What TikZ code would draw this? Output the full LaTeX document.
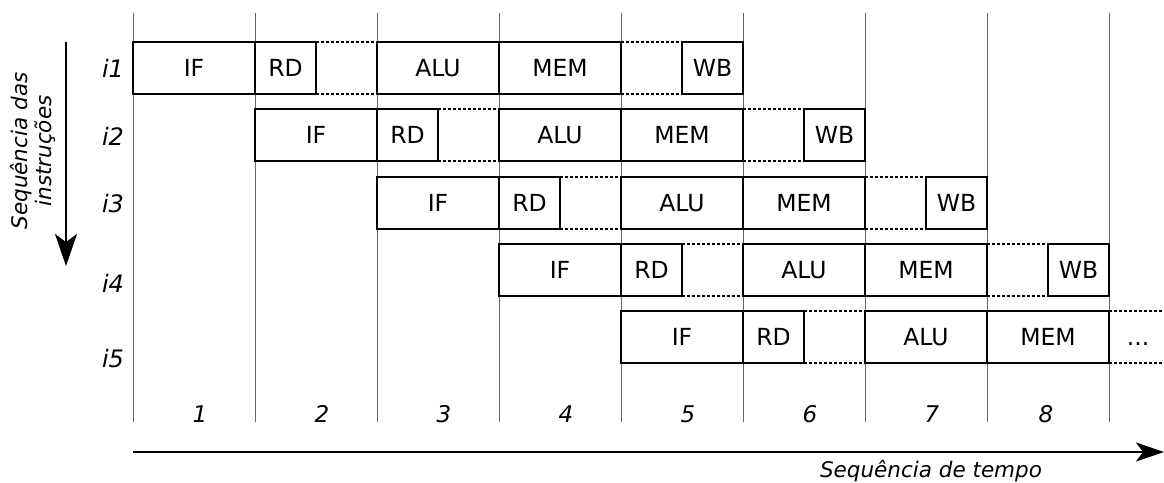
\documentclass[tikz,border=0pt]{standalone}
\usepackage{fontspec}
\setmainfont{DejaVu Sans}
\usetikzlibrary{arrows.meta}
\begin{document}
\begin{tikzpicture}[x=1pt,y=-1pt,
  stage/.style={draw=black, line width=1.3pt, fill=white, minimum height=52pt,
    inner sep=0pt, outer sep=0pt, font=\fontsize{23.5}{27}\selectfont, anchor=west},
  full/.style={stage, minimum width=122pt},
  half/.style={stage, minimum width=61pt},
  dotline/.style={line width=1.2pt, dash pattern=on 3pt off 2pt},
  gridline/.style={line width=1pt, draw=black!60},
  rowlab/.style={font=\fontsize{24}{28}\selectfont\itshape},
  numlab/.style={font=\fontsize{23}{27}\selectfont\itshape},
  axlab/.style={font=\fontsize{21.5}{24}\selectfont\itshape},
  axisarrow/.style={line width=2pt},
  vtip/.style={-{Stealth[length=32pt,width=22pt,inset=8pt]}},
  htip/.style={-{Stealth[length=28pt,width=19pt,inset=7pt]}}
]
\useasboundingbox (0,0) rectangle (1164,482);

% grid lines
\foreach \k in {0,...,8}{
  \draw[gridline] (133+122*\k,13) -- (133+122*\k,422);
}

% row i1
\node[full] (aif)  at (133,68) {IF};
\node[half] (ard)  at (255,68) {RD};
\node[full] (aalu) at (377,68) {ALU};
\node[full] (amem) at (499,68) {MEM};
\node[half] (awb)  at (682,68) {WB};
% row i2
\node[full] (bif)  at (255,135) {IF};
\node[half] (brd)  at (377,135) {RD};
\node[full] (balu) at (499,135) {ALU};
\node[full] (bmem) at (621,135) {MEM};
\node[half] (bwb)  at (804,135) {WB};
% row i3
\node[full] (cif)  at (377,203) {IF};
\node[half] (crd)  at (499,203) {RD};
\node[full] (calu) at (621,203) {ALU};
\node[full] (cmem) at (743,203) {MEM};
\node[half] (cwb)  at (926,203) {WB};
% row i4
\node[full] (dif)  at (499,270) {IF};
\node[half] (drd)  at (621,270) {RD};
\node[full] (dalu) at (743,270) {ALU};
\node[full] (dmem) at (865,270) {MEM};
\node[half] (dwb)  at (1048,270) {WB};
% row i5
\node[full] (eif)  at (621,337) {IF};
\node[half] (erd)  at (743,337) {RD};
\node[full] (ealu) at (865,337) {ALU};
\node[full] (emem) at (987,337) {MEM};
\node[font=\fontsize{23.5}{27}\selectfont, anchor=base] (edots) at (1138,345) {...};
\coordinate (eendt) at (1164,311);
\coordinate (eendb) at (1164,363);

% dotted waiting lines
\foreach \r in {a,b,c,d,e}{
  \draw[dotline] (\r rd.north east) -- (\r alu.north west);
  \draw[dotline] (\r rd.south east) -- (\r alu.south west);
}
\foreach \r in {a,b,c,d}{
  \draw[dotline] (\r mem.north east) -- (\r wb.north west);
  \draw[dotline] (\r mem.south east) -- (\r wb.south west);
}
\draw[dotline] (emem.north east) -- (eendt);
\draw[dotline] (emem.south east) -- (eendb);

% row labels
\node[rowlab] (l1) at (113,68) {i1};
\node[rowlab] (l2) at (113,136) {i2};
\node[rowlab] (l3) at (113,204) {i3};
\node[rowlab] (l4) at (113,283) {i4};
\node[rowlab] (l5) at (113,359) {i5};

% time numbers
\foreach \n/\xx in {1/200,2/322,3/444,4/566,5/688,6/810,7/932,8/1046}{
  \node[numlab] (t\n) at (\xx,414) {\n};
}

% axes
\coordinate (ytop) at (66,42);
\coordinate (ybot) at (66,266);
\draw[axisarrow, vtip] (ytop) -- (ybot);
\node[axlab, rotate=90, align=center] (ylab) at (33,151) {Sequência das\\instruções};

\coordinate (xleft) at (133,452);
\coordinate (xright) at (1164,452);
\draw[axisarrow, htip] (xleft) -- (xright);
\node[axlab] (xlab) at (931,471) {Sequência de tempo};
\end{tikzpicture}
\end{document}
